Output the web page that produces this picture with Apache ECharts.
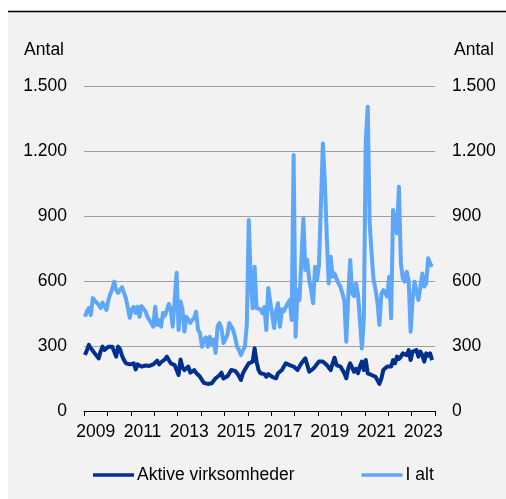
<!DOCTYPE html>
<html>
<head>
<meta charset="utf-8">
<script src="https://cdn.jsdelivr.net/npm/echarts@6/dist/echarts.min.js"></script>
<style>
  html, body { margin: 0; padding: 0; background: #ffffff; }
  #chart { width: 506px; height: 499px; }
</style>
</head>
<body>
<div id="chart"></div>
<script>
// Year labels on the time axis (one tick per year, labels every other year)
const years = ['2009','2010','2011','2012','2013','2014','2015','2016','2017','2018','2019','2020','2021','2022','2023'];

// Monthly counts, Jan 2009 - Nov 2023
const iAlt = [
  435, 460, 475, 443, 521, 510, 505, 490, 475, 500, 505, 466,   // 2009
  512, 540, 565, 597, 558, 545, 544, 572, 570, 520, 512, 430,   // 2010
  470, 481, 452, 481, 435, 484, 475, 460, 435, 420, 406, 389,   // 2011
  481, 397, 420, 389, 452, 440, 466, 494, 470, 389, 380, 638,   // 2012
  374, 505, 470, 366, 435, 440, 406, 420, 430, 458, 374, 360,   // 2013
  297, 328, 340, 297, 343, 310, 330, 268, 389, 406, 380, 314,   // 2014
  330, 350, 406, 390, 374, 340, 297, 280, 258, 281, 297, 400,   // 2015
  881, 605, 474, 666, 475, 481, 470, 451, 480, 374, 568, 505,   // 2016
  505, 383, 460, 497, 389, 470, 460, 480, 489, 512, 420, 1181,  // 2017
  343, 558, 512, 520, 889, 651, 697, 605, 558, 497, 666, 605,   // 2018
  674, 666, 1235, 1060, 805, 589, 712, 620, 635, 610, 589, 574, // 2019
  543, 510, 320, 528, 697, 543, 530, 589, 540, 420, 289, 420,   // 2020
  1250, 1404, 866, 728, 605, 560, 500, 397, 540, 558, 566, 528, // 2021
  620, 428, 928, 920, 820, 1035, 682, 612, 597, 643, 600, 366,  // 2022
  512, 597, 605, 512, 520, 635, 574, 590, 705, 680, 666         // 2023
];

const aktive = [
  258, 280, 305, 290, 281, 266, 258, 243, 275, 297, 281, 278,   // 2009
  297, 295, 297, 300, 251, 297, 285, 255, 235, 220, 225, 215,   // 2010
  212, 220, 192, 215, 220, 205, 208, 210, 205, 208, 201, 215,   // 2011
  220, 232, 215, 225, 228, 238, 251, 235, 220, 215, 212, 215,   // 2012
  166, 238, 201, 189, 197, 205, 177, 185, 189, 176, 170, 158,   // 2013
  143, 130, 128, 125, 130, 128, 135, 151, 158, 165, 177, 150,   // 2014
  151, 160, 174, 189, 181, 185, 175, 160, 143, 174, 190, 205,   // 2015
  220, 215, 228, 289, 228, 189, 174, 180, 170, 158, 170, 175,   // 2016
  158, 165, 151, 174, 180, 189, 205, 220, 215, 212, 215, 205,   // 2017
  205, 189, 197, 220, 228, 243, 212, 181, 185, 195, 205, 210,   // 2018
  228, 225, 228, 220, 212, 205, 189, 220, 246, 212, 215, 205,   // 2019
  190, 174, 151, 197, 220, 200, 181, 195, 174, 205, 228, 189,   // 2020
  235, 174, 170, 166, 160, 158, 151, 125, 150, 189, 197, 205,   // 2021
  200, 205, 235, 220, 251, 240, 251, 266, 274, 258, 281, 235,   // 2022
  274, 270, 281, 251, 274, 258, 228, 266, 255, 266, 235         // 2023
];

// Value-axis ticks
const yTicks = [0, 300, 600, 900, 1200, 1500];

const DARK = '#00308f';
const LIGHT = '#5ea6f7';
const FONT = 'Liberation Sans, Arial, sans-serif';
const FS = 17.5;

// Danish thousands separator: 1500 -> "1.500"
function fmt(v) {
  return String(v).replace(/\B(?=(\d{3})+(?!\d))/g, '.');
}

// Month index -> centre of the month on the 0..180 month scale
const toPoints = arr => arr.map((v, i) => [i + 0.5, v]);

const chart = echarts.init(document.getElementById('chart'), null, { renderer: 'canvas' });

const yAxisBase = {
  type: 'value',
  min: yTicks[0],
  max: yTicks[yTicks.length - 1],
  interval: yTicks[1] - yTicks[0],
  axisLine: { show: false },
  axisTick: { show: false },
  name: 'Antal',
  nameLocation: 'end',
  nameGap: 36,
  axisLabel: {
    color: '#000',
    fontFamily: FONT,
    fontSize: FS,
    margin: 17,
    formatter: fmt
  }
};

chart.setOption({
  backgroundColor: '#ffffff',
  animation: false,
  textStyle: { fontFamily: FONT },
  graphic: [
    {
      type: 'rect',
      shape: { x: 8, y: 11, width: 498, height: 488 },
      style: { fill: '#f2f2f2' },
      z: -10
    },
    {
      type: 'line',
      shape: { x1: 8, y1: 11.5, x2: 506, y2: 11.5 },
      style: { stroke: '#000', lineWidth: 1.5 },
      z: -9
    }
  ],
  grid: { left: 84, right: 71, top: 86, bottom: 88, containLabel: false },
  legend: {
    data: ['Aktive virksomheder', 'I alt'],
    left: 93,
    top: 466,
    padding: 0,
    icon: 'rect',
    itemWidth: 41,
    itemHeight: 3.5,
    itemGap: 67,
    textStyle: { color: '#000', fontFamily: FONT, fontSize: FS, padding: [0, 0, 0, -2] }
  },
  xAxis: [
    {
      type: 'value',
      min: 0,
      max: years.length * 12,
      interval: 12,
      axisLine: { show: true, lineStyle: { color: '#000', width: 1 } },
      axisTick: { show: true, length: 5, lineStyle: { color: '#000', width: 1 } },
      axisLabel: { show: false },
      splitLine: { show: false }
    },
    {
      type: 'category',
      data: years,
      position: 'bottom',
      boundaryGap: true,
      axisLine: { show: false },
      axisTick: { show: false },
      axisLabel: {
        interval: 1,
        color: '#000',
        fontFamily: FONT,
        fontSize: FS,
        margin: 12
      },
      splitLine: { show: false }
    }
  ],
  yAxis: [
    Object.assign({}, yAxisBase, {
      position: 'left',
      nameTextStyle: { color: '#000', fontFamily: FONT, fontSize: FS, align: 'right', verticalAlign: 'middle', padding: [0, 20, 0, 0] },
      splitLine: { show: true, lineStyle: { color: '#a0a0a0', width: 1 } }
    }),
    Object.assign({}, yAxisBase, {
      position: 'right',
      nameTextStyle: { color: '#000', fontFamily: FONT, fontSize: FS, align: 'left', verticalAlign: 'middle', padding: [0, 0, 0, 19] },
      splitLine: { show: false }
    })
  ],
  series: [
    {
      name: 'I alt',
      type: 'line',
      xAxisIndex: 0,
      yAxisIndex: 0,
      data: toPoints(iAlt),
      showSymbol: false,
      symbol: 'none',
      lineStyle: { color: LIGHT, width: 4, join: 'round' },
      itemStyle: { color: LIGHT }
    },
    {
      name: 'Aktive virksomheder',
      type: 'line',
      xAxisIndex: 0,
      yAxisIndex: 0,
      data: toPoints(aktive),
      showSymbol: false,
      symbol: 'none',
      lineStyle: { color: DARK, width: 4, join: 'round' },
      itemStyle: { color: DARK }
    }
  ]
});
</script>
</body>
</html>
